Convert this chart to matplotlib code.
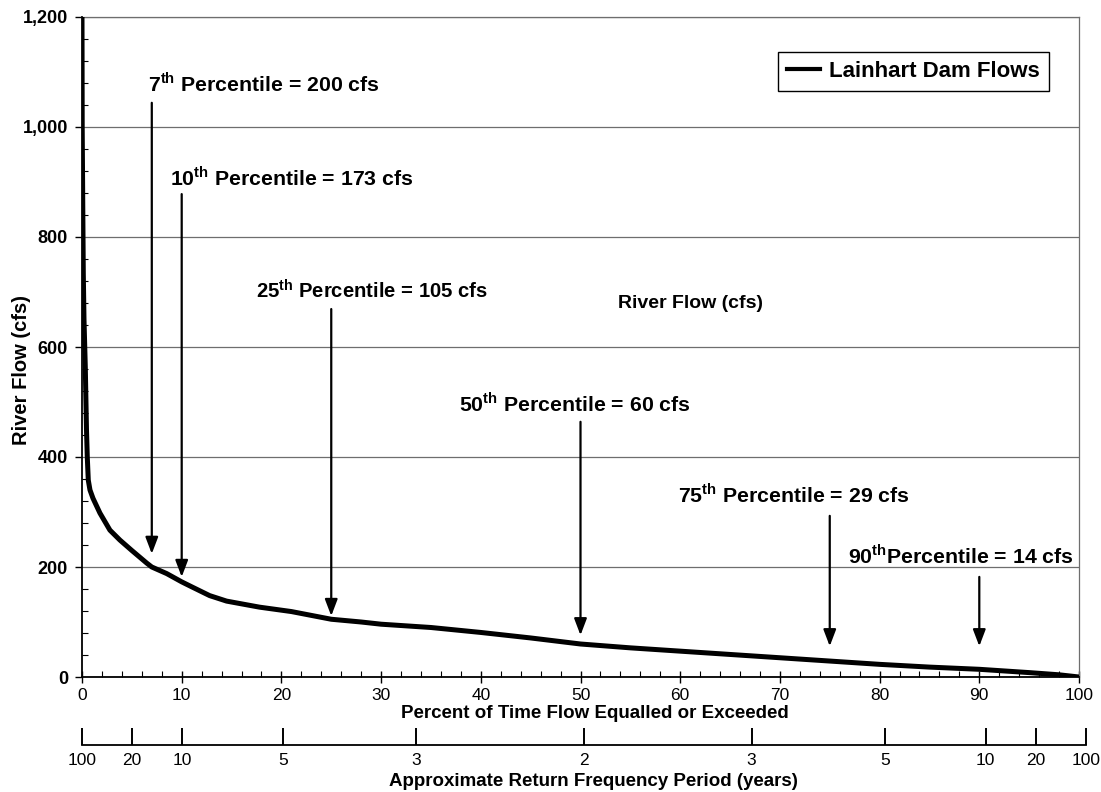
import matplotlib
matplotlib.use("Agg")
import matplotlib.pyplot as plt
from matplotlib.ticker import MultipleLocator, FuncFormatter
from matplotlib.lines import Line2D

# Flow duration curve: percent of time flow equalled or exceeded vs river flow (cfs)
pct_exceeded = [0, 0.02, 0.08, 0.13, 0.2, 0.33, 0.45, 0.53, 0.63, 0.8, 1.1, 1.8, 2.8,
                3.8, 5, 6.5, 7, 8.5, 10, 11, 12.8, 14.5, 17.8, 21, 25, 28, 30, 35, 40,
                45, 50, 55, 60, 65, 70, 75, 80, 85, 90, 95, 98, 100]
flow_cfs = [1200, 1000, 850, 734, 650, 564, 450, 400, 358, 340, 325, 298, 267,
            249, 230, 207, 200, 188, 173, 164, 148, 138, 127, 119, 105, 100, 96, 90, 81,
            71, 60, 53, 47, 41, 35, 29, 23, 18, 14, 8, 4, 0]

# Highlighted percentiles and their flows
percentiles = [7, 10, 25, 50, 75, 90]
percentile_flows = [200, 173, 105, 60, 29, 14]

# Return-frequency scale below the chart
return_positions = [0, 5, 10, 20, 33.3, 50, 66.7, 80, 90, 95, 100]
return_labels = ["100", "20", "10", "5", "3", "2", "3", "5", "10", "20", "100"]

plt.rcParams["font.family"] = ["Liberation Sans", "DejaVu Sans"]
plt.rcParams["mathtext.fontset"] = "custom"
plt.rcParams["mathtext.rm"] = "Liberation Sans"
plt.rcParams["mathtext.bf"] = "Liberation Sans:bold"

W, H = 1101, 792
fig = plt.figure(figsize=(W / 100, H / 100), dpi=100)

def fx(px):
    return px / W

def fy(py):
    return 1 - py / H

L, R, T, B = 82, 1079, 17, 677
ax = fig.add_axes([fx(L), fy(B), (R - L) / W, (B - T) / H])

ax.plot(pct_exceeded, flow_cfs, color="black", lw=3.6, solid_joinstyle="round",
        solid_capstyle="butt", zorder=3)

ax.set_xlim(0, 100)
ax.set_ylim(0, 1200)

ax.xaxis.set_major_locator(MultipleLocator(10))
ax.xaxis.set_minor_locator(MultipleLocator(2))
ax.yaxis.set_major_locator(MultipleLocator(200))
ax.yaxis.set_minor_locator(MultipleLocator(40))
ax.yaxis.set_major_formatter(FuncFormatter(lambda v, p: f"{int(v):,}"))

ax.tick_params(axis="x", which="major", direction="inout", length=8, width=1,
               labelsize=12.5, pad=4)
ax.tick_params(axis="x", which="minor", direction="in", length=4, width=0.8)
ax.tick_params(axis="y", which="major", direction="out", length=5, width=1,
               labelsize=13, pad=5)
ax.tick_params(axis="y", which="minor", direction="in", length=4, width=0.8)
for lab in ax.get_yticklabels():
    lab.set_fontweight("bold")

ax.grid(axis="y", which="major", color="#6e6e6e", lw=0.9)
ax.set_axisbelow(True)
for side in ("top", "right"):
    ax.spines[side].set_color("#6e6e6e")
    ax.spines[side].set_linewidth(0.9)
for side in ("left", "bottom"):
    ax.spines[side].set_color("black")
    ax.spines[side].set_linewidth(1.3)

# Percentile arrows and labels
arrow_top = [1044, 878, 669, 464, 293, 182]
arrow_gap = [24, 9, 6, 16, 27, 42]
label_pos = [(6.6, 1064), (8.8, 893), (17.45, 689), (37.8, 482), (59.8, 318), (76.8, 207)]
label_size = [15.3, 15.3, 14.6, 15.3, 15.3, 15.3]
for p, v, top, gap, (tx, ty), fs in zip(percentiles, percentile_flows, arrow_top,
                                         arrow_gap, label_pos, label_size):
    ax.annotate("", xy=(p, v + gap), xytext=(p, top),
                arrowprops=dict(arrowstyle="-|>,head_length=1.0,head_width=0.38",
                                color="black", lw=1.6, shrinkA=0, shrinkB=0))
    sep = "" if p == 90 else " "
    ax.text(tx, ty, f"{p}$^{{\\mathbf{{th}}}}${sep}Percentile = {v} cfs",
            fontsize=fs, fontweight="bold", ha="left", va="baseline")

ax.text(53.8, 671, "River Flow (cfs)", fontsize=14, fontweight="bold",
        ha="left", va="baseline")

leg = ax.legend(handles=[Line2D([], [], color="black", lw=3)],
                labels=["Lainhart Dam Flows"],
                loc="upper right", bbox_to_anchor=(fx(1049), fy(52)),
                bbox_transform=fig.transFigure, borderaxespad=0,
                fancybox=False, shadow=False, framealpha=1, edgecolor="black",
                handlelength=1.5, handletextpad=0.4, borderpad=0.4,
                prop={"weight": "bold", "size": 16})
leg.get_frame().set_linewidth(1.0)

fig.text(fx(22), fy(370), "River Flow (cfs)", rotation=90, fontsize=14.5,
         fontweight="bold", ha="center", va="center")
fig.text(fx(595), fy(714), "Percent of Time Flow Equalled or Exceeded",
         fontsize=13.5, fontweight="bold", ha="center", va="center")

# Return frequency scale
ax2 = fig.add_axes([fx(L), fy(745), (1086 - L) / W, 20 / H])
ax2.set_xlim(0, 100)
ax2.set_ylim(0, 1)
ax2.patch.set_visible(False)
for side in ("top", "left", "right"):
    ax2.spines[side].set_visible(False)
ax2.spines["bottom"].set_linewidth(1.3)
ax2.set_yticks([])
ax2.set_xticks(return_positions)
ax2.set_xticklabels(return_labels)
ax2.tick_params(axis="x", direction="in", length=12, width=1.4, labelsize=12.5, pad=6)

fig.text(fx(593), fy(781), "Approximate Return Frequency Period (years)",
         fontsize=13.5, fontweight="bold", ha="center", va="center")

fig.savefig("out.png", dpi=100)
